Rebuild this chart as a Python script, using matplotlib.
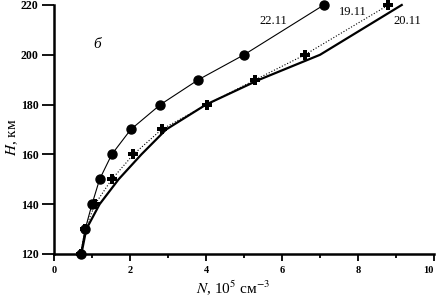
import matplotlib.pyplot as plt
from matplotlib.ticker import MultipleLocator

plt.rcParams['font.family'] = ['Liberation Serif', 'DejaVu Serif']
plt.rcParams['mathtext.fontset'] = 'stix'

# 22.11 - circles, thin solid line
h_22 = [120, 130, 140, 150, 160, 170, 180, 190, 200, 220]
n_22 = [0.7, 0.82, 1.0, 1.2, 1.52, 2.02, 2.8, 3.8, 5.0, 7.1]
# 19.11 - crosses, dotted line
h_19 = [120, 130, 140, 150, 160, 170, 180, 190, 200, 220]
n_19 = [0.7, 0.82, 1.08, 1.52, 2.09, 2.83, 4.02, 5.3, 6.6, 8.8]
# 20.11 - thick solid line, no markers
h_20 = [120, 130, 140, 150, 160, 170, 180, 190, 200, 220]
n_20 = [0.72, 0.85, 1.2, 1.7, 2.3, 2.95, 4.0, 5.4, 7.0, 9.15]

x_ticks = [0, 2, 4, 6, 8, 10]
y_ticks = [120, 140, 160, 180, 200, 220]

fig = plt.figure(figsize=(4.37, 2.97), dpi=100)
ax = fig.add_axes([0.1236, 0.1448, 0.8696, 0.8384])

ax.plot(n_20, h_20, color='black', lw=1.6, clip_on=False)
ax.plot(n_19, h_19, color='black', lw=0.8, ls=':', marker='P', ms=6.5,
        markeredgewidth=0, clip_on=False)
ax.plot(n_22, h_22, color='black', lw=0.8, marker='o', ms=6.5, clip_on=False)

ax.text(5.76, 213.6, '22.11', fontsize=9, ha='center', va='center')
ax.text(7.87, 217, '19.11', fontsize=9, ha='center', va='center')
ax.text(9.3, 213.6, '20.11', fontsize=9, ha='center', va='center')
ax.text(1.13, 204, 'б', fontsize=11, style='italic', ha='center', va='center')

ax.set_xlim(0, 10)
ax.set_ylim(120, 220)
ax.set_xticks(x_ticks)
ax.set_yticks(y_ticks)
ax.xaxis.set_minor_locator(MultipleLocator(1))

for s in ['top', 'right']:
    ax.spines[s].set_visible(False)
for s in ['left', 'bottom']:
    ax.spines[s].set_linewidth(1.8)

ax.tick_params(axis='y', which='major', length=9, width=1.3, labelsize=8.5, pad=2)
ax.tick_params(axis='x', which='major', length=5, width=1.3, labelsize=7.5, pad=4)
ax.tick_params(axis='x', which='minor', length=3, width=1.3)
for lbl in ax.get_xticklabels() + ax.get_yticklabels():
    lbl.set_fontweight('bold')
# keep the last label inside the canvas
ax.get_xticklabels()[-1].set_horizontalalignment('right')

ax.set_xlabel(r'$N$, 10$^5$ см$^{-3}$', fontsize=11)
ax.xaxis.set_label_coords(0.47, -0.095)
ax.set_ylabel(r'$H$, км', fontsize=11)
ax.yaxis.set_label_coords(-0.09, 0.47)

plt.savefig('out.png', dpi=100)
